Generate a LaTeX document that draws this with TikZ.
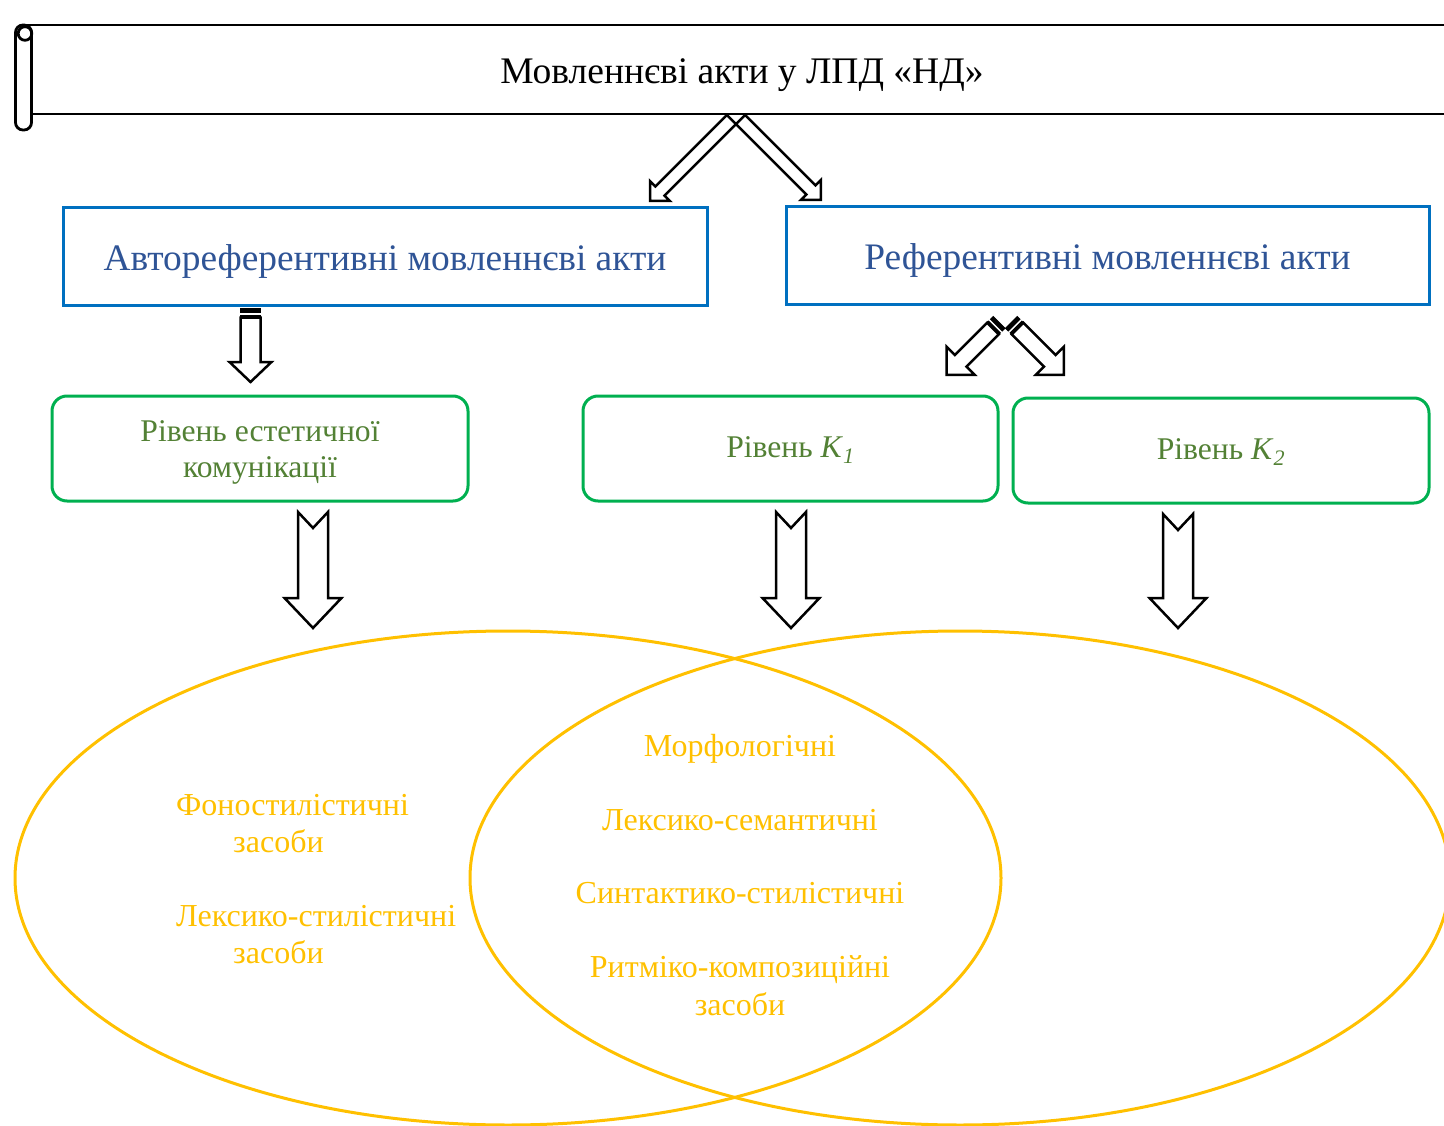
\documentclass[tikz,border=0pt]{standalone}
\usepackage{fontspec}
\setmainfont{Liberation Serif}
\usetikzlibrary{shapes.geometric}

\definecolor{boxblue}{HTML}{0070C0}
\definecolor{textblue}{HTML}{2F5496}
\definecolor{boxgreen}{HTML}{00B050}
\definecolor{textgreen}{HTML}{538135}
\definecolor{setgold}{HTML}{FFC000}

% hollow block arrow: tail coordinate, angle, length, shaft half-width, head half-width, head length
\newcommand\plainarrow[6]{%
  \draw[arrowline, shift={(#1)}, rotate=#2]
    (0,#4) -- ({#3-#6},#4) -- ({#3-#6},#5) -- (#3,0) -- ({#3-#6},-#5)
    -- ({#3-#6},-#4) -- (0,-#4) -- cycle;}
% hollow block arrow with a V-notched tail (extra last argument: notch depth)
\newcommand\notcharrow[7]{%
  \draw[arrowline, shift={(#1)}, rotate=#2]
    (0,#4) -- ({#3-#6},#4) -- ({#3-#6},#5) -- (#3,0) -- ({#3-#6},-#5)
    -- ({#3-#6},-#4) -- (0,-#4) -- (#7,0) -- cycle;}
% hollow block arrow with two stripes at the tail
\newcommand\stripearrow[6]{%
  \begin{scope}[shift={(#1)}, rotate=#2]
    \draw[stripe] (0,-#4) rectangle (3.5,#4);
    \draw[stripe] (6.5,-#4) rectangle (8.5,#4);
    \draw[arrowline]
      (8.5,#4) -- ({#3-#6},#4) -- ({#3-#6},#5) -- (#3,0) -- ({#3-#6},-#5)
      -- ({#3-#6},-#4) -- (8.5,-#4) -- cycle;
  \end{scope}}

\begin{document}
\begin{tikzpicture}[x=1pt, y=-1pt,
  arrowline/.style={draw=black, line width=2.5pt, line join=miter},
  stripe/.style={draw=black, fill=black, line width=1.2pt},
  scrollline/.style={draw=black, line width=2.8pt},
  bluebox/.style={draw=boxblue, line width=3pt, inner sep=0pt},
  greenbox/.style={draw=boxgreen, line width=3pt, rounded corners=15pt, inner sep=0pt},
  setline/.style={draw=setgold, line width=3pt, ellipse, inner sep=0pt},
  titletext/.style={font=\fontsize{37.5}{45}\selectfont, inner sep=0pt},
  bluetext/.style={font=\fontsize{37.4}{45}\selectfont, text=textblue, inner sep=0pt},
  greentext/.style={font=\fontsize{31.6}{38}\selectfont, text=textgreen, inner sep=0pt},
  goldtext/.style={font=\fontsize{32}{38}\selectfont, text=setgold, inner sep=0pt}]

\useasboundingbox (0,0) rectangle (1444,1126);

% ---- scroll banner with the title ----
\draw[scrollline] (22,25) -- (1450,25);
\draw[scrollline] (31.5,114) -- (1450,114);
\draw[scrollline, fill=white, rounded corners=7.5pt] (15.5,25) rectangle (31.5,130);
\draw[scrollline] (25,33.5) circle [radius=6.8pt];
\node[titletext, anchor=base] (title) at (742,84) {Мовленнєві акти у ЛПД «НД»};

% ---- arrows from the title to the two kinds of acts ----
\coordinate (tl) at (743,108);
\coordinate (tr) at (729,108);
\begin{scope}
  \clip (0,114) rectangle (1444,1126);
  \plainarrow{tl}{225}{131.5}{6.5}{14.1}{14.1}
  \plainarrow{tr}{-45}{130}{6.5}{14.1}{14.1}
\end{scope}

% ---- blue boxes ----
\node[bluebox, minimum width=644, minimum height=98] (auto) at (385,257) {};
\node[bluetext, anchor=base] (autotxt) at (385,271) {Автореферентивні мовленнєві акти};
\node[bluebox, minimum width=643, minimum height=98] (ref) at (1107.5,256) {};
\node[bluetext, anchor=base] (reftxt) at (1107.5,270) {Референтивні мовленнєві акти};

% ---- striped arrows to the levels ----
\coordinate (sa) at (250.5,309);
\stripearrow{sa}{-90}{73}{10}{21}{20}
\coordinate (sl) at (999,322.5);
\stripearrow{sl}{225}{74}{8.2}{19.8}{19.8}
\coordinate (sr) at (1011.5,322.5);
\stripearrow{sr}{-45}{74}{8.2}{19.8}{19.8}

% ---- green level boxes ----
\node[greenbox, minimum width=416, minimum height=105] (aest) at (260,448.5) {};
\node[greentext, anchor=base] (aest1) at (260,441) {Рівень естетичної};
\node[greentext, anchor=base] (aest2) at (260,477) {комунікації};
\node[greenbox, minimum width=415, minimum height=105] (kone) at (790.5,448.5) {};
\node[greentext, anchor=base] (konetxt) at (790.5,457) {Рівень \textit{K}\textsubscript{\textit{1}}};
\node[greenbox, minimum width=416, minimum height=105] (ktwo) at (1221,450.5) {};
\node[greentext, anchor=base] (ktwotxt) at (1221,459) {Рівень \textit{K}\textsubscript{\textit{2}}};

% ---- notched arrows to the sets of means ----
\coordinate (na) at (313,512);
\notcharrow{na}{-90}{116}{15}{28.5}{30}{16}
\coordinate (nb) at (791,512);
\notcharrow{nb}{-90}{116}{15}{28.5}{30}{16}
\coordinate (nc) at (1178,514);
\notcharrow{nc}{-90}{114}{15}{28.5}{30}{16}

% ---- overlapping sets ----
\node[setline, minimum width=986, minimum height=494] (leftset) at (508,878) {};
\node[setline, minimum width=980, minimum height=494] (rightset) at (960,878) {};

\node[goldtext, anchor=base west] (g1) at (176,815) {Фоностилістичні};
\node[goldtext, anchor=base west] (g2) at (233,852) {засоби};
\node[goldtext, anchor=base west] (g3) at (176,926) {Лексико-стилістичні};
\node[goldtext, anchor=base west] (g4) at (233,963) {засоби};

\node[goldtext, anchor=base] (m1) at (740,756) {Морфологічні};
\node[goldtext, anchor=base] (m2) at (740,830) {Лексико-семантичні};
\node[goldtext, anchor=base] (m3) at (740,903) {Синтактико-стилістичні};
\node[goldtext, anchor=base] (m4) at (740,977) {Ритміко-композиційні};
\node[goldtext, anchor=base] (m5) at (740,1015) {засоби};
\end{tikzpicture}
\end{document}
